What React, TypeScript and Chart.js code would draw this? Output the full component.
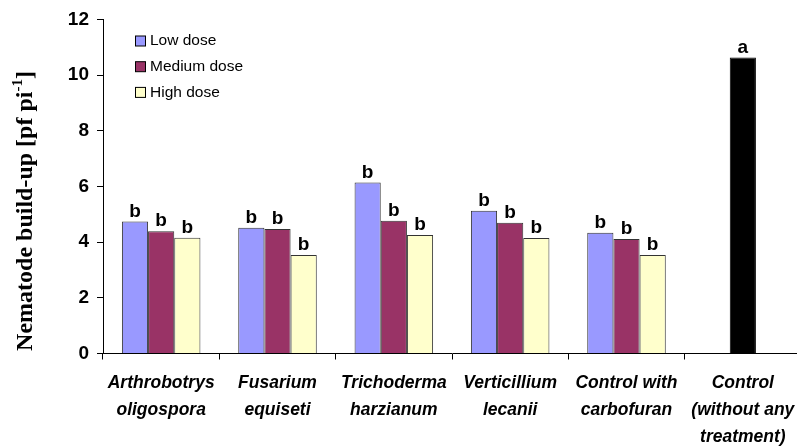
import React, { useEffect, useRef } from "react";
import { Chart, registerables } from "chart.js";

Chart.register(...registerables);

const categories: string[][] = [
  ["Arthrobotrys", "oligospora"],
  ["Fusarium", "equiseti"],
  ["Trichoderma", "harzianum"],
  ["Verticillium", "lecanii"],
  ["Control with", "carbofuran"],
  ["Control", "(without any", "treatment)"],
];

const seriesLabels = ["Low dose", "Medium dose", "High dose", "Control"];
const lowDose = [4.74, 4.52, 6.14, 5.13, 4.34, null];
const mediumDose = [4.39, 4.47, 4.77, 4.7, 4.11, null];
const highDose = [4.16, 3.54, 4.26, 4.15, 3.54, null];
const controlValues = [null, null, null, null, null, 10.63];

const lowLetters = ["b", "b", "b", "b", "b", ""];
const mediumLetters = ["b", "b", "b", "b", "b", ""];
const highLetters = ["b", "b", "b", "b", "b", ""];
const controlLetters = ["", "", "", "", "", "a"];

const yTicks = [0, 2, 4, 6, 8, 10, 12];

const SANS = '"Liberation Sans", Arial, sans-serif';
const SERIF = '"Liberation Serif", "Times New Roman", serif';

const letterSets = [lowLetters, mediumLetters, highLetters, controlLetters];

const letterPlugin = {
  id: "letters",
  afterDatasetsDraw(chart: any) {
    const ctx = chart.ctx;
    ctx.save();
    ctx.font = `bold 19px ${SANS}`;
    ctx.fillStyle = "#000";
    ctx.textAlign = "center";
    ctx.textBaseline = "alphabetic";
    chart.data.datasets.forEach((ds: any, di: number) => {
      const meta = chart.getDatasetMeta(di);
      meta.data.forEach((bar: any, i: number) => {
        const l = letterSets[di][i];
        if (!l || ds.data[i] == null) return;
        ctx.fillText(l, bar.x, bar.y - 5);
      });
    });
    ctx.restore();
  },
};

const legendPlugin = {
  id: "customLegend",
  afterDraw(chart: any) {
    const ctx = chart.ctx;
    ctx.save();
    ctx.font = `15.5px ${SANS}`;
    ctx.textAlign = "left";
    ctx.textBaseline = "middle";
    for (let i = 0; i < 3; i++) {
      const ds = chart.data.datasets[i];
      const cy = 41 + i * 25.7;
      ctx.fillStyle = ds.backgroundColor;
      ctx.fillRect(135.5, cy - 5, 10, 10);
      ctx.strokeStyle = "#000";
      ctx.lineWidth = 1;
      ctx.strokeRect(135.5, cy - 5, 10, 10);
      ctx.fillStyle = "#000";
      ctx.fillText(ds.label, 150, cy);
    }
    ctx.restore();
  },
};

const yTitlePlugin = {
  id: "yTitle",
  afterDraw(chart: any) {
    const ctx = chart.ctx;
    const main = "Nematode build-up [pf pi";
    const sup = "-1";
    const end = "]";
    ctx.save();
    ctx.fillStyle = "#000";
    ctx.textBaseline = "alphabetic";
    ctx.textAlign = "left";
    const mainFont = `bold 24px ${SERIF}`;
    const supFont = `bold 15px ${SERIF}`;
    ctx.font = mainFont;
    const wMain = ctx.measureText(main).width;
    const wEnd = ctx.measureText(end).width;
    ctx.font = supFont;
    const wSup = ctx.measureText(sup).width;
    const total = wMain + wSup + wEnd;
    ctx.translate(32, 211);
    ctx.rotate(-Math.PI / 2);
    let x = -total / 2;
    ctx.font = mainFont;
    ctx.fillText(main, x, 0);
    x += wMain;
    ctx.font = supFont;
    ctx.fillText(sup, x, -10);
    x += wSup;
    ctx.font = mainFont;
    ctx.fillText(end, x, 0);
    ctx.restore();
  },
};

export default function App() {
  const ref = useRef<HTMLCanvasElement | null>(null);

  useEffect(() => {
    if (!ref.current) return;
    const barBorder = "#333";
    const chart = new Chart(ref.current, {
      type: "bar",
      data: {
        labels: categories,
        datasets: [
          {
            label: seriesLabels[0],
            data: lowDose,
            backgroundColor: "#9999FF",
            borderColor: barBorder,
            borderWidth: 1,
            categoryPercentage: 0.675,
            barPercentage: 1,
          },
          {
            label: seriesLabels[1],
            data: mediumDose,
            backgroundColor: "#993366",
            borderColor: barBorder,
            borderWidth: 1,
            categoryPercentage: 0.675,
            barPercentage: 1,
          },
          {
            label: seriesLabels[2],
            data: highDose,
            backgroundColor: "#FFFFCC",
            borderColor: barBorder,
            borderWidth: 1,
            categoryPercentage: 0.675,
            barPercentage: 1,
          },
          {
            label: seriesLabels[3],
            data: controlValues,
            backgroundColor: "#000000",
            borderColor: "#000000",
            borderWidth: 1,
            categoryPercentage: 0.225,
            barPercentage: 1,
          },
        ] as any,
      },
      options: {
        animation: false,
        responsive: false,
        devicePixelRatio: 1,
        skipNull: true,
        layout: { padding: { left: 0, top: 17.5, right: 9, bottom: 0 } },
        plugins: {
          legend: { display: false },
          tooltip: { enabled: false },
          title: { display: false },
        },
        scales: {
          x: {
            offset: true,
            grid: {
              display: true,
              drawOnChartArea: false,
              drawTicks: true,
              tickLength: 6,
              color: "#000",
              offset: true,
            },
            border: { display: true, color: "#000", width: 1 },
            ticks: {
              color: "#000",
              font: { family: SANS, size: 17.5, weight: "bold", style: "italic", lineHeight: 1.55 },
              padding: 10,
              maxRotation: 0,
              autoSkip: false,
            },
            afterFit(scale: any) {
              scale.height = 94.5;
            },
          },
          y: {
            min: 0,
            max: 12,
            afterBuildTicks(scale: any) {
              scale.ticks = yTicks.map((v) => ({ value: v }));
            },
            grid: {
              display: true,
              drawOnChartArea: false,
              drawTicks: true,
              tickLength: 6,
              color: "#000",
            },
            border: { display: true, color: "#000", width: 1 },
            ticks: {
              color: "#000",
              font: { family: SANS, size: 19, weight: "bold" },
              padding: 8,
            },
            afterFit(scale: any) {
              scale.width = 103;
            },
          },
        },
      } as any,
      plugins: [letterPlugin, legendPlugin, yTitlePlugin],
    });
    return () => chart.destroy();
  }, []);

  return (
    <div
      style={{
        position: "fixed",
        left: 0,
        top: 0,
        width: 797,
        height: 448,
        overflow: "hidden",
        background: "#fff",
      }}
    >
      <canvas ref={ref} width={810} height={448} style={{ width: 810, height: 448, display: "block" }} />
    </div>
  );
}
